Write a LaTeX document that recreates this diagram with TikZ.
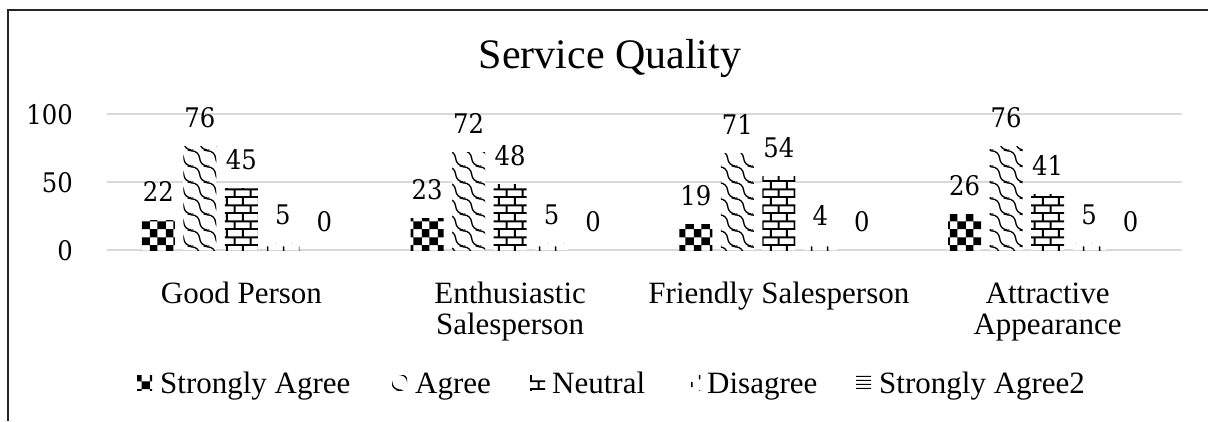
\documentclass[tikz,border=0pt]{standalone}
\usepackage{fontspec}
\newfontfamily\tnr{Liberation Serif}
\newfontfamily\numf[FakeStretch=0.9]{DejaVu Serif}
\usetikzlibrary{patterns}
\definecolor{gridgray}{HTML}{D9D9D9}
\definecolor{framec}{HTML}{262626}

% checkerboard, 8pt cells
\pgfdeclarepatternformonly{xcheck}{\pgfqpoint{0pt}{0pt}}{\pgfqpoint{16pt}{16pt}}{\pgfqpoint{16pt}{16pt}}{%
  \pgfpathrectangle{\pgfqpoint{-2pt}{1pt}}{\pgfqpoint{8pt}{8pt}}%
  \pgfpathrectangle{\pgfqpoint{14pt}{1pt}}{\pgfqpoint{8pt}{8pt}}%
  \pgfpathrectangle{\pgfqpoint{6pt}{9pt}}{\pgfqpoint{8pt}{8pt}}%
  \pgfpathrectangle{\pgfqpoint{6pt}{-7pt}}{\pgfqpoint{8pt}{8pt}}%
  \pgfusepath{fill}}

% bricks 16 x 8
\pgfdeclarepatternformonly{xbrick}{\pgfqpoint{0pt}{0pt}}{\pgfqpoint{16pt}{16pt}}{\pgfqpoint{16pt}{16pt}}{%
  \pgfsetlinewidth{2pt}%
  \pgfpathmoveto{\pgfqpoint{-1pt}{1pt}}\pgfpathlineto{\pgfqpoint{17pt}{1pt}}%
  \pgfpathmoveto{\pgfqpoint{-1pt}{9pt}}\pgfpathlineto{\pgfqpoint{17pt}{9pt}}%
  \pgfpathmoveto{\pgfqpoint{11pt}{1pt}}\pgfpathlineto{\pgfqpoint{11pt}{9pt}}%
  \pgfpathmoveto{\pgfqpoint{3pt}{9pt}}\pgfpathlineto{\pgfqpoint{3pt}{17pt}}%
  \pgfpathmoveto{\pgfqpoint{3pt}{-7pt}}\pgfpathlineto{\pgfqpoint{3pt}{1pt}}%
  \pgfusepath{stroke}}

% sparse short vertical dashes
\pgfdeclarepatternformonly{xdash}{\pgfqpoint{0pt}{0pt}}{\pgfqpoint{16pt}{16pt}}{\pgfqpoint{16pt}{16pt}}{%
  \pgfsetlinewidth{1.6pt}%
  \pgfpathmoveto{\pgfqpoint{12pt}{11pt}}\pgfpathlineto{\pgfqpoint{12pt}{16pt}}%
  \pgfpathmoveto{\pgfqpoint{4pt}{3pt}}\pgfpathlineto{\pgfqpoint{4pt}{8pt}}%
  \pgfusepath{stroke}}

% horizontal lines
\pgfdeclarepatternformonly{xhline}{\pgfqpoint{0pt}{0pt}}{\pgfqpoint{16pt}{4pt}}{\pgfqpoint{16pt}{4pt}}{%
  \pgfsetlinewidth{1.2pt}%
  \pgfpathmoveto{\pgfqpoint{-1pt}{2pt}}\pgfpathlineto{\pgfqpoint{17pt}{2pt}}%
  \pgfusepath{stroke}}

% wavy diagonal lines (one wave per 16pt tile)
\newcommand\wvm[2]{%
  \pgfpathmoveto{\pgfpoint{0pt+(#1pt)}{16pt+(#2pt)}}%
  \pgfpathcurveto{\pgfpoint{4.74pt+(#1pt)}{15.4pt+(#2pt)}}{\pgfpoint{7.4pt+(#1pt)}{12.74pt+(#2pt)}}{\pgfpoint{8pt+(#1pt)}{8pt+(#2pt)}}%
  \pgfpathcurveto{\pgfpoint{8.6pt+(#1pt)}{3.26pt+(#2pt)}}{\pgfpoint{11.26pt+(#1pt)}{0.6pt+(#2pt)}}{\pgfpoint{16pt+(#1pt)}{0pt+(#2pt)}}}
\pgfdeclarepatternformonly{xwave}{\pgfqpoint{0pt}{0pt}}{\pgfqpoint{16pt}{16pt}}{\pgfqpoint{16pt}{16pt}}{%
  \pgfsetlinewidth{1.4pt}%
  \wvm{0}{0}\wvm{16}{0}\wvm{-16}{0}\wvm{0}{16}\wvm{0}{-16}%
  \pgfusepath{stroke}}

\begin{document}
\begin{tikzpicture}[x=1pt,y=-1pt,
  gridln/.style={draw=gridgray,line width=1.4pt},
  frameln/.style={draw=framec,line width=2pt},
  barbg/.style={fill=white},
  p1/.style={pattern=xcheck},
  p2/.style={pattern=xwave},
  p3/.style={pattern=xbrick},
  p4/.style={pattern=xdash},
  p5/.style={pattern=xhline},
  numlab/.style={anchor=base,inner sep=0pt,font=\numf\fontsize{27}{32}\selectfont},
  axlab/.style={anchor=base east,inner sep=0pt,font=\numf\fontsize{27}{32}\selectfont},
  catlab/.style={anchor=base,inner sep=0pt,align=center,font=\tnr\fontsize{31}{31}\selectfont},
  leglab/.style={anchor=base west,inner sep=0pt,font=\tnr\fontsize{31}{31}\selectfont},
  ttl/.style={anchor=base,inner sep=0pt,font=\tnr\fontsize{42}{42}\selectfont}]
\useasboundingbox (0,0) rectangle (1208,421);
\fill[white] (0,0) rectangle (1208,421);

% frame (only top and left edges visible)
\coordinate (fa) at (1208,10);
\coordinate (fb) at (8,10);
\coordinate (fc) at (8,421);
\draw[frameln] (fa) -- (fb) -- (fc);

% title
\node[ttl] (title) at (610,68) {Service Quality};

% gridlines and axis labels
\foreach \v/\y in {0/250,50/182,100/114}{
  \coordinate (gl\v) at (107,\y);
  \coordinate (gr\v) at (1182,\y);
  \draw[gridln] (gl\v) -- (gr\v);
  \node[axlab] (ax\v) at (73,\y+10) {\v};
}

% bars and data labels
\foreach \c/\ctr/\va/\vb/\vc/\vd/\ve in {1/241.4/22/76/45/5/0, 2/510.1/23/72/48/5/0, 3/778.9/19/71/54/4/0, 4/1047.6/26/76/41/5/0}{
  \foreach \v [count=\i] in {\va,\vb,\vc,\vd,\ve}{
    \pgfmathsetmacro\xc{\ctr+(\i-3)*41.5}
    \pgfmathsetmacro\yt{250-\v*1.36}
    \ifnum\v>0
      \path[barbg] (\xc-16.5,250) rectangle (\xc+16.5,\yt);
      \path[p\i] (\xc-16.5,250) rectangle (\xc+16.5,\yt);
    \fi
    \node[numlab] (n\c\i) at (\xc,\yt-19) {\v};
  }
}

% category labels (first line baseline at 303)
\node[catlab] (c1) at (241.4,303) {Good Person};
\node[catlab] (c2) at (510.1,334) {Enthusiastic\\Salesperson};
\node[catlab] (c3) at (778.9,303) {Friendly Salesperson};
\node[catlab] (c4) at (1047.6,334) {Attractive\\Appearance};

% legend
\foreach \i/\mx/\tx/\t in {1/137/160/Strongly Agree, 2/392/415/Agree, 3/530/552/Neutral, 4/686/707/Disagree, 5/856/879/Strongly Agree2}{
  \path[barbg] (\mx,375) rectangle (\mx+15,390);
  \path[p\i] (\mx,375) rectangle (\mx+15,390);
  \node[leglab] (lg\i) at (\tx,393) {\t};
}
\end{tikzpicture}
\end{document}
